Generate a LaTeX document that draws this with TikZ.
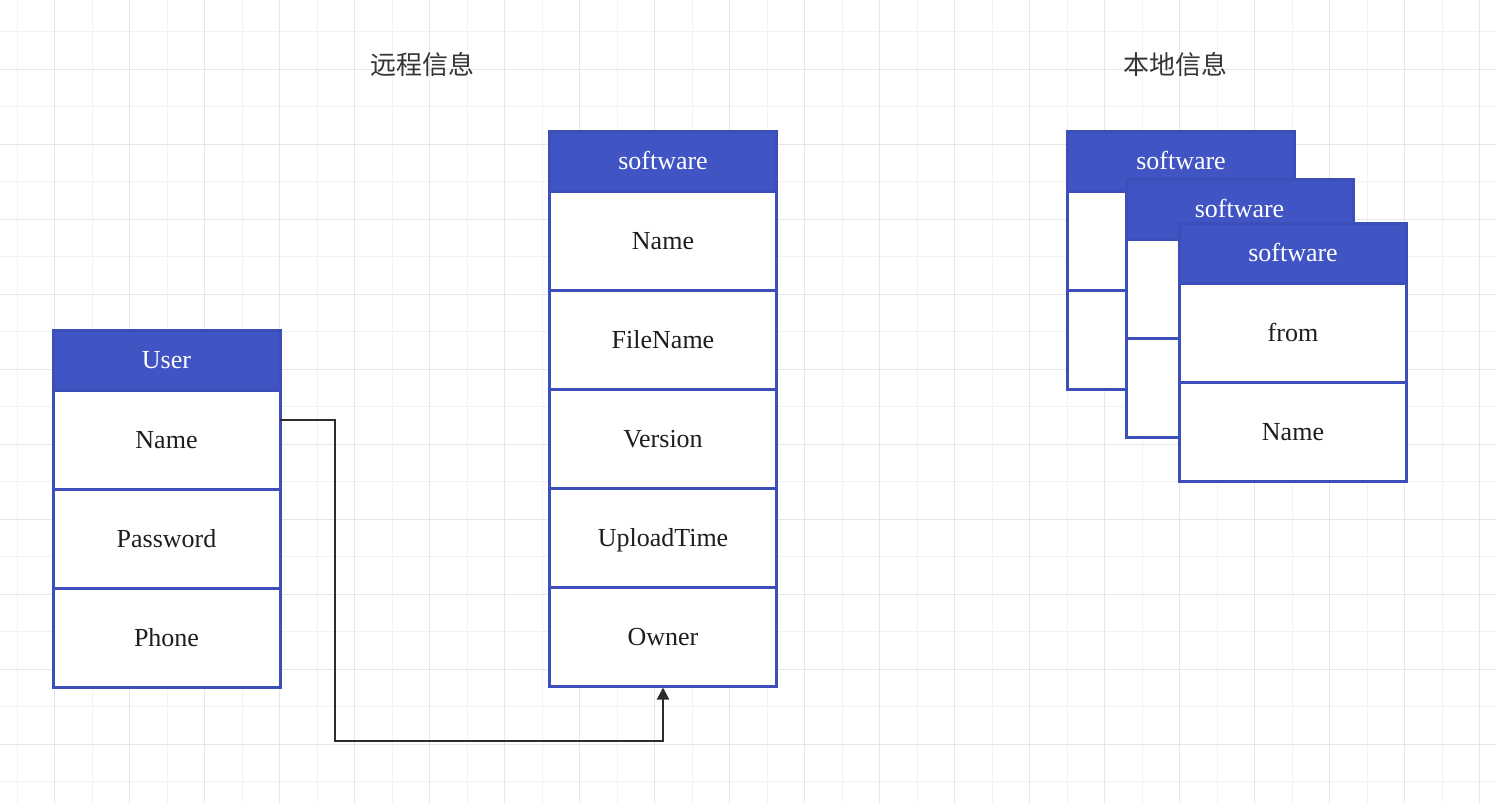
\documentclass[tikz,border=0pt]{standalone}
\usepackage{fontspec}
\setmainfont{Liberation Serif}
\newfontfamily\cjkfont{Noto Sans CJK SC}
\usetikzlibrary{arrows.meta,calc}
\definecolor{hdrblue}{RGB}{64,84,196}
\definecolor{edgeblue}{RGB}{60,78,185}
\definecolor{gridmaj}{RGB}{230,230,230}
\definecolor{gridmin}{RGB}{242,242,242}
\definecolor{txt}{RGB}{30,30,30}
\definecolor{conncol}{RGB}{45,45,45}
\begin{document}
\begin{tikzpicture}[x=1pt,y=-1pt,
  cell/.style={draw=edgeblue, line width=3pt, fill=white, rectangle,
    minimum width=227pt, minimum height=99pt, anchor=north west,
    inner sep=0pt, outer sep=0pt, text height=17pt, text depth=0pt,
    font=\fontsize{26}{30}\selectfont, text=txt},
  hdr/.style={cell, fill=hdrblue, text=white, minimum height=60pt},
  title/.style={font=\cjkfont\fontsize{26}{30}\selectfont, text=txt!90, inner sep=0pt},
  conn/.style={draw=conncol, line width=2pt, -{Triangle[width=12pt,length=12pt]}}
]
\useasboundingbox (0,0) rectangle (1496,803);
\fill[white] (0,0) rectangle (1496,803);
% grid
\foreach \x in {17.3,92.3,...,1496} \draw[gridmin, line width=1pt] (\x,0) -- (\x,803);
\foreach \y in {31.8,106.8,...,803} \draw[gridmin, line width=1pt] (0,\y) -- (1496,\y);
\foreach \x in {54.3,129.3,...,1496} \draw[gridmaj, line width=1pt] (\x,0) -- (\x,803);
\foreach \y in {69.3,144.3,...,803} \draw[gridmaj, line width=1pt] (0,\y) -- (1496,\y);

% titles
\node[title] (t-remote) at (422,65) {远程信息};
\node[title] (t-local) at (1175,65) {本地信息};

% User table
\node[hdr] (user-h) at (53,330) {User};
\node[cell] (user-name) at (user-h.south west) {Name};
\node[cell] (user-pw) at (user-name.south west) {Password};
\node[cell] (user-phone) at (user-pw.south west) {Phone};

% remote software table
\node[hdr] (sw-h) at (549.5,131) {software};
\node[cell] (sw-name) at (sw-h.south west) {Name};
\node[cell] (sw-file) at (sw-name.south west) {FileName};
\node[cell] (sw-ver) at (sw-file.south west) {Version};
\node[cell] (sw-up) at (sw-ver.south west) {UploadTime};
\node[cell] (sw-own) at (sw-up.south west) {Owner};

% local software tables (stacked)
\node[hdr] (l1-h) at (1067.5,131) {software};
\node[cell] (l1-a) at (l1-h.south west) {};
\node[cell] (l1-b) at (l1-a.south west) {};

\node[hdr] (l2-h) at (1126,179) {software};
\node[cell] (l2-a) at (l2-h.south west) {};
\node[cell] (l2-b) at (l2-a.south west) {};

\node[hdr] (l3-h) at (1179.5,223) {software};
\node[cell] (l3-from) at (l3-h.south west) {from};
\node[cell] (l3-name) at (l3-from.south west) {Name};

% connector
\coordinate (c-start) at ([yshift=20pt]user-name.east);
\coordinate (c-bend) at (335,741);
\draw[conn] (c-start) -| (c-bend) -| ([yshift=-1.5pt]sw-own.south);
\end{tikzpicture}
\end{document}
